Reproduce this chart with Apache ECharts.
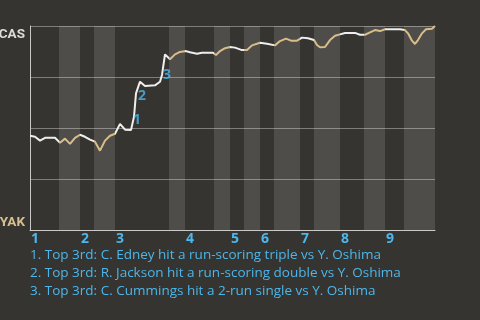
<!DOCTYPE html>
<html><head><meta charset="utf-8">
<script src="https://cdn.jsdelivr.net/npm/echarts@6/dist/echarts.min.js"></script>
<style>html,body{margin:0;padding:0;background:#353430;}#c{width:480px;height:320px;}</style>
</head><body><div id="c"></div>
<script>
// x = event position (0..405), v = CAS win probability (%)
const wpX = [0,5,10,15,25,30,35,40,45,50,55,60,65,70,75,80,85,90,95,101,104,106,110,115,125,130,132,135,140,145,150,156,160,167,172,183,186,190,195,200,205,212,217,222,230,237,245,250,256,261,267,272,278,284,287,290,295,300,305,310,315,325,330,335,340,345,350,355,370,375,378,382,385,388,392,396,402,405];
const wpV = [46.2,45.7,43.8,45.2,45.2,42.8,44.8,42.2,45.2,46.7,45.7,44.3,43.3,38.9,43.8,46.2,47.2,52.0,49.2,49.0,55.5,67.0,72.7,70.6,70.9,72.7,76.0,86.1,83.7,86.1,87.3,87.7,87.1,86.4,86.9,86.9,85.8,87.7,89.1,89.7,89.4,88.2,88.2,90.5,91.8,91.3,90.5,92.6,93.8,92.8,92.8,94.3,94.0,93.1,90.7,89.6,89.7,93.1,95.2,95.9,96.6,96.6,95.7,95.7,96.9,98.0,97.5,98.4,98.4,98.0,96.4,92.8,91.2,93.1,96.4,98.4,98.7,100];
// bottom halves of innings (YAK batting): [start, end]
const bottomHalves = [[29,50],[64,85],[139,155],[184,200],[214,230],[244,270],[284,310],[334,355],[374,405]];
const inningStarts = [0,50,85,155,200,230,270,310,355];
const inningLabels = ['1','2','3','4','5','6','7','8','9'];
const eventX = [107,112,137];
const eventV = [53.9,65.7,76.0];
const eventLabels = ['1','2','3'];
const notes = [
 '1. Top 3rd: C. Edney hit a run-scoring triple vs Y. Oshima',
 '2. Top 3rd: R. Jackson hit a run-scoring double vs Y. Oshima',
 '3. Top 3rd: C. Cummings hit a 2-run single vs Y. Oshima'
];
const teamTop = 'CAS', teamBottom = 'YAK';

const FONT = '"Open Sans", sans-serif';
const AXFONT = 'Roboto, sans-serif';
const WHITE = '#eeeeee', TAN = '#d8bd88', BLUE = '#4db6ea';

const pieces = [];
let prev = 0;
bottomHalves.forEach(([a,b]) => {
  pieces.push({gte: prev, lt: a, color: WHITE});
  pieces.push({gte: a, lt: b, color: TAN});
  prev = b;
});
pieces[pieces.length-1] = {gte: bottomHalves[bottomHalves.length-1][0], lte: 1000, color: TAN};

const chart = echarts.init(document.getElementById('c'), null, {renderer:'canvas'});
chart.setOption({
  backgroundColor: '#353430',
  animation: false,
  grid: {left: 30, right: 45, top: 26, bottom: 90, containLabel: false, outerBoundsMode: 'none'},
  title: {
    text: notes.join('\n'), left: 30, top: 246, padding: 0,
    textStyle: {color: BLUE, fontFamily: FONT, fontSize: 13.5, fontWeight: 'normal', lineHeight: 18}
  },
  xAxis: {
    type: 'value', min: 0, max: 405,
    axisLine: {show: true, lineStyle: {color: '#c9c9c7', width: 1}},
    axisTick: {show: false},
    splitLine: {show: false},
    axisLabel: {
      customValues: inningStarts,
      formatter: v => inningLabels[inningStarts.indexOf(v)] || '',
      color: BLUE, fontFamily: FONT, fontWeight: 'bold', fontSize: 14,
      align: 'left', margin: 2, padding: [0,0,0,1]
    }
  },
  yAxis: {
    type: 'value', min: 0, max: 100, interval: 25,
    axisLine: {show: true, lineStyle: {color: '#c9c9c7', width: 1}},
    axisTick: {show: false},
    splitLine: {show: true, lineStyle: {color: '#7e7d7a', width: 1}},
    axisLabel: {
      margin: 5,
      verticalAlignMaxLabel: 'top', verticalAlignMinLabel: 'bottom',
      formatter: v => v === 100 ? '{c|' + teamTop + '}' : (v === 0 ? '{y|' + teamBottom + '}' : ''),
      rich: {
        c: {color: '#dcdcda', fontFamily: AXFONT, fontWeight: 'bold', fontSize: 13.5, padding: [2,0,0,0]},
        y: {color: '#d6c090', fontFamily: AXFONT, fontWeight: 'bold', fontSize: 13.5}
      }
    }
  },
  visualMap: {show: false, type: 'piecewise', seriesIndex: 0, dimension: 0, pieces: pieces},
  series: [
    {
      type: 'line', data: wpX.map((x,i) => [x, wpV[i]]),
      symbol: 'none', lineStyle: {width: 2}, z: 3,
      markArea: {
        silent: true,
        itemStyle: {color: 'rgba(255,255,255,0.125)'},
        data: bottomHalves.map(([a,b]) => [{xAxis: a}, {xAxis: b}])
      }
    },
    {
      type: 'scatter', symbolSize: 1, itemStyle: {color: 'rgba(0,0,0,0)'}, z: 4,
      data: eventX.map((x,i) => ({value: [x, eventV[i]], name: eventLabels[i]})),
      label: {show: true, position: 'inside', formatter: p => p.name,
        color: BLUE, fontFamily: FONT, fontWeight: 'bold', fontSize: 14}
    }
  ]
});
</script></body></html>
